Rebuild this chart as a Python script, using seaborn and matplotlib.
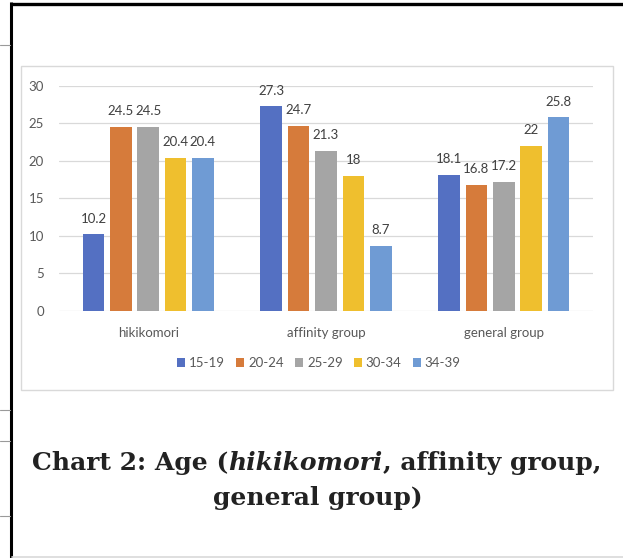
import matplotlib
matplotlib.use("Agg")
import matplotlib.pyplot as plt
import seaborn as sns
import pandas as pd
from matplotlib.patches import Rectangle
from matplotlib.lines import Line2D

groups = ["hikikomori", "affinity group", "general group"]
ages = ["15-19", "20-24", "25-29", "30-34", "34-39"]
v_15_19 = [10.2, 27.3, 18.1]
v_20_24 = [24.5, 24.7, 16.8]
v_25_29 = [24.5, 21.3, 17.2]
v_30_34 = [20.4, 18.0, 22.0]
v_34_39 = [20.4, 8.7, 25.8]
yticks = [0, 5, 10, 15, 20, 25, 30]
colors = ["#5470C2", "#D67B3B", "#A5A5A5", "#EFBF2E", "#6F9BD4"]

series = [v_15_19, v_20_24, v_25_29, v_30_34, v_34_39]
rows = []
for age, vals in zip(ages, series):
    for g, v in zip(groups, vals):
        rows.append({"group": g, "age": age, "value": v})
df = pd.DataFrame(rows)

sns.set_theme(style="white")
plt.rcParams["font.family"] = ["Lato", "DejaVu Sans"]

W, H = 623, 558
fig = plt.figure(figsize=(W / 100, H / 100), dpi=100)
fig.patch.set_facecolor("white")

def fx(px):
    return px / W

def fy(py):
    return 1 - py / H

# outer page decorations
fig.add_artist(Line2D([fx(11), fx(11)], [fy(2), fy(560)], color="black", lw=2.2,
                      solid_capstyle="butt", transform=fig.transFigure))
fig.add_artist(Line2D([fx(10), fx(640)], [fy(3.5), fy(3.5)], color="black", lw=2.4,
                      solid_capstyle="butt", transform=fig.transFigure))
fig.add_artist(Line2D([fx(12), fx(640)], [fy(556.5), fy(556.5)], color="#D9D9D9", lw=1.2,
                      transform=fig.transFigure))
for yy in [45, 410, 441, 516]:
    fig.add_artist(Line2D([fx(0), fx(10)], [fy(yy), fy(yy)], color="#9A9A9A", lw=0.8,
                          transform=fig.transFigure))

# chart frame
fig.add_artist(Rectangle((fx(21), fy(390)), fx(613) - fx(21), fy(66) - fy(390),
                         transform=fig.transFigure, fill=False, edgecolor="#D9D9D9", lw=1.0))

ax = fig.add_axes([fx(59.3), fy(310.7), fx(592.7) - fx(59.3), fy(86) - fy(310.7)])
sns.barplot(data=df, x="group", y="value", hue="age", order=groups, hue_order=ages,
            palette=colors, width=0.77, gap=0.21, ax=ax, legend=False,
            saturation=1, edgecolor="none", linewidth=0, errorbar=None)

ax.set_xlim(-0.5, 2.5)
ax.set_ylim(0, 30)
ax.set_yticks(yticks)
ax.set_yticklabels([str(t) for t in yticks])
ax.yaxis.grid(True, color="#D9D9D9", lw=0.9)
ax.set_axisbelow(True)
for s in ax.spines.values():
    s.set_visible(False)
ax.tick_params(axis="y", length=0, pad=11, labelsize=9.5, labelcolor="#595959")
ax.tick_params(axis="x", length=0, pad=12, labelsize=9.5, labelcolor="#595959")
ax.set_xlabel("")
ax.set_ylabel("")

for cont, vals in zip(ax.containers, series):
    ax.bar_label(cont, labels=[f"{v:g}" for v in vals], padding=7, fontsize=9.5, color="#404040")

handles = [Rectangle((0, 0), 1, 1, facecolor=c, edgecolor="none") for c in colors]
fig.legend(handles, ages, loc="center", bbox_to_anchor=(fx(319), fy(363)), ncol=5,
           frameon=False, handlelength=0.6, handleheight=0.6, handletextpad=0.3,
           columnspacing=0.85, fontsize=9.5, labelcolor="#595959")

# title with mixed styles
title_size = 18
fam = "DejaVu Serif"
renderer = fig.canvas.get_renderer()
parts = [("Chart 2: Age (", "normal"), ("hikikomori", "italic"), (", affinity group,", "normal")]
texts = []
for s, st in parts:
    t = fig.text(0, fy(470), s, fontsize=title_size, fontweight="bold", style=st,
                 family=fam, color="#222222", ha="left", va="baseline")
    texts.append(t)
widths = [t.get_window_extent(renderer).width for t in texts]
total = sum(widths)
x0 = 316.7 - total / 2
for t, w in zip(texts, widths):
    t.set_x(fx(x0))
    x0 += w
fig.text(fx(317.5), fy(505), "general group)", fontsize=title_size, fontweight="bold",
         family=fam, color="#222222", ha="center", va="baseline")

fig.savefig("out.png", dpi=100, facecolor="white")
